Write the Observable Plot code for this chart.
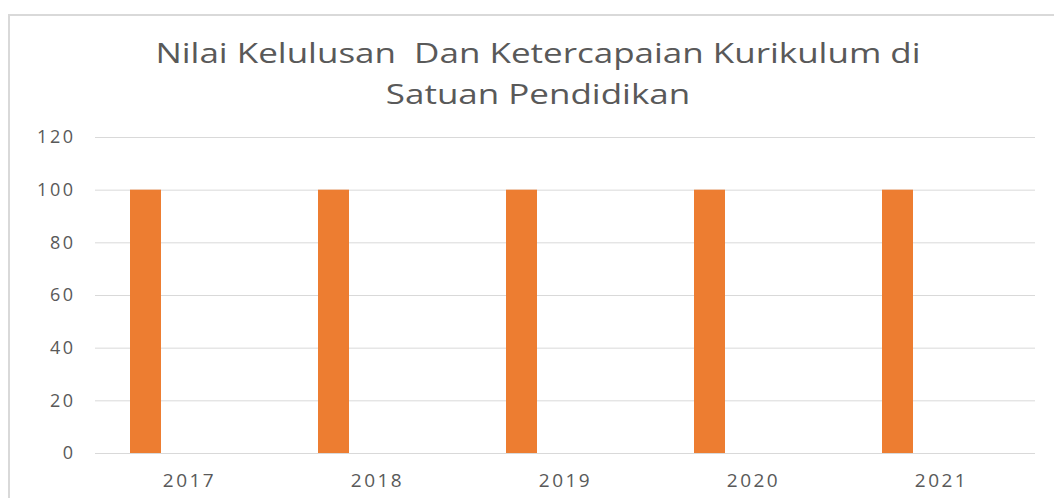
<!DOCTYPE html>
<html>
<head>
<meta charset="utf-8">
<script src="https://cdn.jsdelivr.net/npm/d3@7"></script>
<script src="https://cdn.jsdelivr.net/npm/@observablehq/plot@0.6"></script>
<style>
  html, body { margin: 0; padding: 0; background: #fff; overflow: hidden; width: 1054px; height: 498px; }
  #wrap { position: relative; width: 1054px; height: 498px; }
  #frame { position: absolute; left: 8px; top: 14px; width: 1100px; height: 600px; border: 2px solid #d9d9d9; box-sizing: border-box; pointer-events: none; }
  #title { position: relative; height: 120px; }
  #title div { position: absolute; left: 538px; transform: translateX(-50%) scaleX(1.32); white-space: pre; font-family: "Open Sans", sans-serif; font-size: 26.5px; color: #595959; line-height: 1; }
  #chart svg text { letter-spacing: 2.5px; }
</style>
</head>
<body>
<div id="wrap">
  <div id="title"></div>
  <div id="chart"></div>
  <div id="frame"></div>
</div>
<script>
const titleLines = ["Nilai Kelulusan  Dan Ketercapaian Kurikulum di", "Satuan Pendidikan"];
const years = ["2017", "2018", "2019", "2020", "2021"];
const series = ["Nilai Kelulusan Dan Ketercapaian Kurikulum"];
const nilai = [100, 100, 100, 100, 100];
const yTicks = [0, 20, 40, 60, 80, 100, 120];

const titleEl = document.getElementById("title");
titleLines.forEach((t, i) => {
  const d = document.createElement("div");
  d.textContent = t;
  d.style.top = (i === 0 ? 40 : 81) + "px";
  titleEl.appendChild(d);
});

const data = years.map((y, i) => ({year: y, series: series[0], value: nilai[i]}));

const chart = Plot.plot({
  width: 1054,
  height: 378,
  marginTop: 17,
  marginBottom: 45,
  marginLeft: 93,
  marginRight: 18,
  style: {fontFamily: "Open Sans", color: "#595959", background: "transparent"},
  fx: {domain: years, padding: 0, label: null, axis: null},
  x: {domain: series, paddingInner: 0, paddingOuter: 2.447, align: 0.224, axis: null},
  y: {domain: [0, 120], label: null, axis: null},
  marks: [
    Plot.gridY(yTicks, {stroke: "#d9d9d9", strokeOpacity: 1, strokeWidth: 1}),
    Plot.barY(data, {fx: "year", x: "series", y: "value", fill: "#ED7D31"}),
    Plot.axisY(yTicks, {tickSize: 0, tickPadding: 20, fontSize: 18, label: null, fill: "#595959"}),
    Plot.axisFx({anchor: "bottom", tickSize: 0, tickPadding: 20, fontSize: 19, label: null, fill: "#595959"})
  ]
});
document.getElementById("chart").appendChild(chart);
</script>
</body>
</html>
